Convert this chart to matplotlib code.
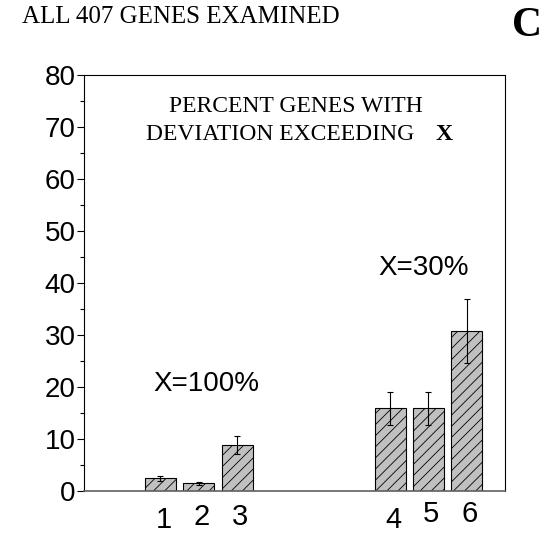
import matplotlib
matplotlib.use("Agg")
import matplotlib.pyplot as plt
from matplotlib.ticker import MultipleLocator
from matplotlib.transforms import ScaledTranslation

# bar data
labels = ["1", "2", "3", "4", "5", "6"]
positions = [1, 2, 3, 7, 8, 9]
percent = [2.4, 1.5, 8.8, 15.9, 15.9, 30.8]
errors = [0.5, 0.3, 1.7, 3.2, 3.2, 6.1]

# small vertical jitter of the hand-placed bar numbers (pixels)
label_dy = [-3, -0.5, -0.5, -3, 3, 3]

plt.rcParams['hatch.linewidth'] = 0.6

fig = plt.figure(figsize=(5.56, 5.33), dpi=100)
ax = fig.add_axes([0.151, 0.079, 0.757, 0.780])

ax.bar(positions, percent, width=0.81, color="#c0c0c0", edgecolor="black",
       linewidth=0.8, hatch="///", yerr=errors,
       error_kw=dict(ecolor="black", elinewidth=0.8, capsize=2.5, capthick=0.8))

ax.set_xlim(-1, 10)
ax.set_ylim(0, 80)
ax.yaxis.set_major_locator(MultipleLocator(10))
ax.yaxis.set_minor_locator(MultipleLocator(5))
ax.tick_params(axis="y", which="major", length=5, width=0.8, pad=1,
               labelsize=20)
ax.tick_params(axis="y", which="minor", length=3, width=0.8)
for lab in ax.get_yticklabels():
    lab.set_fontfamily("Liberation Sans")

ax.set_xticks(positions)
ax.set_xticklabels(labels, fontfamily="Liberation Sans", fontsize=21)
ax.tick_params(axis="x", length=0, pad=8.6)
for lab, dy in zip(ax.get_xticklabels(), label_dy):
    lab.set_transform(lab.get_transform() +
                      ScaledTranslation(3 / 100, dy / 100, fig.dpi_scale_trans))

for s in ax.spines.values():
    s.set_linewidth(0.8)
ax.spines["bottom"].set_color("#606060")
ax.spines["bottom"].set_linewidth(1.2)

ax.text(2.2, 20.6, "X=100%", fontfamily="Liberation Sans", fontsize=20,
        ha="center", va="center")
ax.text(7.88, 42.9, "X=30%", fontfamily="Liberation Sans", fontsize=20,
        ha="center", va="center")
ax.text(4.54, 74.0, "PERCENT GENES WITH", fontfamily="Liberation Serif",
        fontsize=17, ha="center", va="center")
ax.text(4.13, 68.6, "DEVIATION EXCEEDING", fontfamily="Liberation Serif",
        fontsize=17, ha="center", va="center")
ax.text(8.42, 68.6, "X", fontfamily="Liberation Serif", fontweight="bold",
        fontsize=17, ha="center", va="center")

fig.text(0.04, 0.969, "ALL 407 GENES EXAMINED", fontfamily="Liberation Serif",
         fontsize=18, ha="left", va="center")
fig.text(0.948, 0.952, "C", fontfamily="Liberation Serif", fontweight="bold",
         fontsize=30, ha="center", va="center")

fig.savefig("out.png", dpi=100)
